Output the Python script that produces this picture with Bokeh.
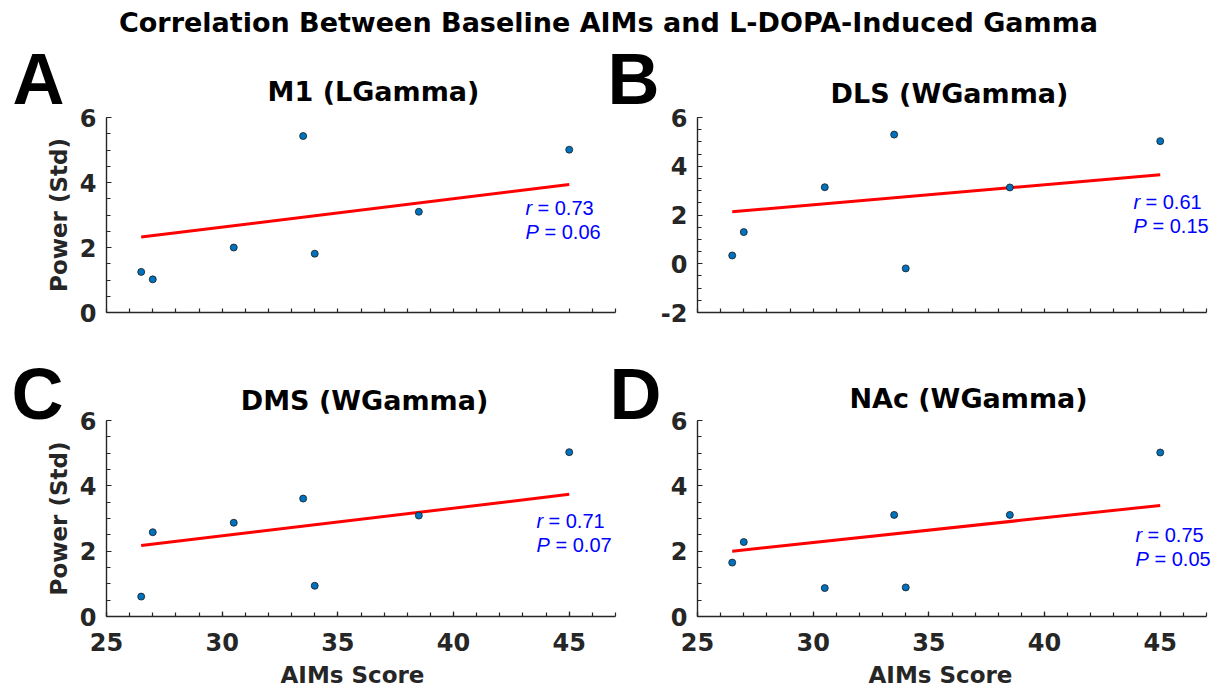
from bokeh.plotting import figure
from bokeh.models import Range1d, FixedTicker, Label, GridBox
from bokeh.embed import file_html
from bokeh.resources import INLINE

# ---------------- data ----------------
aims_score = [26.5, 27.0, 30.5, 33.5, 34.0, 38.5, 45.0]
m1_power = [1.25, 1.02, 2.00, 5.43, 1.81, 3.10, 5.01]
dls_power = [0.34, 1.30, 3.14, 5.30, -0.19, 3.13, 5.03]
dms_power = [0.61, 2.58, 2.87, 3.61, 0.94, 3.09, 5.03]
nac_power = [1.65, 2.28, 0.87, 3.11, 0.89, 3.11, 5.02]

fit_x = [26.5, 45.0]
m1_fit = [2.32, 3.94]
dls_fit = [2.13, 3.65]
dms_fit = [2.17, 3.74]
nac_fit = [2.00, 3.40]

panel_letters = ["A", "B", "C", "D"]
panel_titles = ["M1 (LGamma)", "DLS (WGamma)", "DMS (WGamma)", "NAc (WGamma)"]
r_values = ["0.73", "0.61", "0.71", "0.75"]
p_values = ["0.06", "0.15", "0.07", "0.05"]

x_ticks = [25, 30, 35, 40, 45]
x_minor = list(range(25, 48))
y_ticks_std = [0, 2, 4, 6]
y_ticks_dls = [-2, 0, 2, 4, 6]

main_title = "Correlation Between Baseline AIMs and L-DOPA-Induced Gamma"
x_label = "AIMs Score"
y_label = "Power (Std)"

# ---------------- style ----------------
TFONT = "DejaVu Sans"
LFONT = "Liberation Sans"
AX = "#262626"
BASE_SHIFT = 0.39  # label y is given as glyph baseline; renderer puts baseline ~0.39em lower


def make_panel(yvals, fitvals, yticks, width, height, bl, br, bt, bb,
               show_xlabels, show_ylabel):
    ylo, yhi = yticks[0], yticks[-1]
    p = figure(width=width, height=height, output_backend="svg",
               toolbar_location=None,
               x_range=Range1d(25, 47), y_range=Range1d(ylo, yhi),
               min_border_left=bl, min_border_right=br,
               min_border_top=bt, min_border_bottom=bb)
    p.outline_line_color = None
    p.grid.visible = False
    p.background_fill_color = "white"
    p.border_fill_color = "white"

    if show_xlabels:
        p.xaxis.ticker = FixedTicker(ticks=x_ticks, minor_ticks=x_minor)
    else:
        p.xaxis.ticker = FixedTicker(ticks=[], minor_ticks=x_minor)
    y_minor = [ylo + 0.5 * i for i in range(int((yhi - ylo) / 0.5) + 1)]
    p.yaxis.ticker = FixedTicker(ticks=yticks, minor_ticks=y_minor)
    p.yaxis.major_label_overrides = {t: str(t) for t in yticks}
    if show_ylabel:
        p.yaxis.axis_label = y_label

    for ax in (p.xaxis[0], p.yaxis[0]):
        ax.axis_line_color = AX
        ax.axis_line_width = 1.4
        ax.major_tick_in = 5
        ax.major_tick_out = 0
        ax.minor_tick_in = 4
        ax.minor_tick_out = 0
        ax.major_tick_line_color = AX
        ax.minor_tick_line_color = AX
        ax.major_tick_line_width = 1.2
        ax.minor_tick_line_width = 1.2
        ax.major_label_text_font = TFONT
        ax.major_label_text_font_style = "bold"
        ax.major_label_text_font_size = "24px"
        ax.major_label_text_color = AX
        ax.axis_label_text_font = TFONT
        ax.axis_label_text_font_style = "bold"
        ax.axis_label_text_font_size = "23px"
        ax.axis_label_text_color = AX
    p.xaxis.major_label_standoff = 16
    p.yaxis.major_label_standoff = 10
    p.yaxis.axis_label_standoff = 5

    p.line(fit_x, fitvals, line_color="#FF0000", line_width=3)
    p.scatter(aims_score, yvals, size=7, fill_color="#0072BD",
              line_color="#1a1a1a", line_width=0.8)
    return p


pa = make_panel(m1_power, m1_fit, y_ticks_std, 640, 370, 106, 25, 117, 58, False, True)
pb = make_panel(dls_power, dls_fit, y_ticks_dls, 576, 370, 57, 10, 117, 58, False, False)
pc = make_panel(dms_power, dms_fit, y_ticks_std, 640, 318, 106, 25, 50, 72, True, True)
pd = make_panel(nac_power, nac_fit, y_ticks_std, 576, 318, 57, 10, 50, 72, True, False)

# ---------------- overlay with titles, panel letters, x labels and statistics ----------------
ov = figure(width=1216, height=688, output_backend="svg", toolbar_location=None,
            x_range=Range1d(0, 1216), y_range=Range1d(688, 0),
            min_border=0, x_axis_type=None, y_axis_type=None)
ov.outline_line_color = None
ov.grid.visible = False
ov.background_fill_color = None
ov.border_fill_color = None


def put(x, base, text, font, size, style="normal", color="black", align="left"):
    ov.add_layout(Label(x=x, y=base - BASE_SHIFT * size, text=text, text_font=font,
                        text_font_style=style, text_font_size=f"{size}px",
                        text_color=color, text_align=align,
                        text_baseline="alphabetic"))


put(608, 33, main_title, TFONT, 27, "bold", "black", "center")

letter_pos = [(12, 107), (607, 107), (11, 422), (609, 422)]
title_pos = [(373, 102), (949, 104), (364, 411), (968, 409)]
stat_pos = [(525, 215), (1133, 209), (536, 528), (1135, 542)]
xlabel_pos = [(352, 683), (940, 683)]

for i in range(4):
    lx, ly = letter_pos[i]
    put(lx, ly, panel_letters[i], LFONT, 72, "bold")
    tx, ty = title_pos[i]
    put(tx, ty, panel_titles[i], TFONT, 27, "bold", "black", "center")
    sx, sy = stat_pos[i]
    for dy, sym, w, val in ((0, "r", 12, r_values[i]), (24, "P", 19, p_values[i])):
        put(sx, sy + dy, sym, LFONT, 20, "italic", "#0000FF")
        put(sx + w, sy + dy, "= " + val, LFONT, 20, "normal", "#0000FF")

for xx, yy in xlabel_pos:
    put(xx, yy, x_label, TFONT, 23, "bold", AX, "center")

# plots in the inner tracks; the overlay spans extra empty outer tracks so that
# its frame is not aligned with the plots' frames
grid = GridBox(children=[(pa, 1, 1), (pb, 1, 2), (pc, 2, 1), (pd, 2, 2),
                         (ov, 0, 0, 4, 4)], spacing=0)
open("out.html", "w").write(file_html(grid, INLINE))
